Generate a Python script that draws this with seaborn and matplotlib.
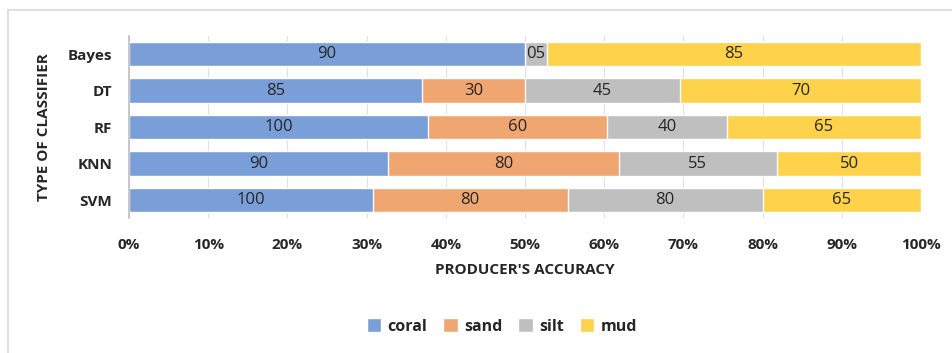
import numpy as np
import pandas as pd
import seaborn as sns
import matplotlib.pyplot as plt
from matplotlib.patches import Rectangle, Patch

classifiers = ['Bayes', 'DT', 'RF', 'KNN', 'SVM']
coral = [90, 85, 100, 90, 100]
sand = [0, 30, 60, 80, 80]
silt = [5, 45, 40, 55, 80]
mud = [85, 70, 65, 50, 65]

classes = ['coral', 'sand', 'silt', 'mud']
colors = ['#7A9ED7', '#F0A670', '#BFBFBF', '#FFD24C']

sns.set_style('white')
plt.rcParams['font.family'] = ['Open Sans', 'DejaVu Sans']

df = pd.DataFrame({'classifier': classifiers, 'coral': coral, 'sand': sand,
                   'silt': silt, 'mud': mud})
total = df[classes].sum(axis=1)
pct = df[classes].div(total, axis=0) * 100
cum = pct.cumsum(axis=1)

fig = plt.figure(figsize=(9.52, 3.53), dpi=100)
ax = fig.add_axes([0.1355, 0.3817, 0.832, 0.517])

# draw from the back (full stack) to the front so the layers stack up
for c, col in reversed(list(zip(classes, colors))):
    sns.barplot(x=cum[c], y=df['classifier'], color=col, orient='h',
                width=0.66, saturation=1, ax=ax, zorder=2)

# value labels in the middle of each segment
for i in range(len(classifiers)):
    for c in classes:
        v = df.loc[i, c]
        if v == 0:
            continue
        mid = cum.loc[i, c] - pct.loc[i, c] / 2
        ax.text(mid, i, '%02d' % v, ha='center', va='center',
                fontsize=12, color='#262626', zorder=3)

ax.set_xlim(0, 100)
ax.set_ylim(4.5, -0.5)
ax.set_xticks(np.arange(0, 101, 10))
ax.set_xticklabels([f'{t}%' for t in range(0, 101, 10)], fontsize=11,
                   fontweight='bold', color='#262626')
ax.tick_params(axis='x', pad=14, length=0)
ax.tick_params(axis='y', pad=12, length=0)
for lab in ax.get_yticklabels():
    lab.set_fontsize(11)
    lab.set_fontweight('bold')
    lab.set_color('#262626')
ax.grid(axis='x', color='#E0E0E0', lw=0.8, zorder=0)
ax.set_axisbelow(True)
for s in ['top', 'right', 'bottom']:
    ax.spines[s].set_visible(False)
ax.spines['left'].set_color('#BFBFBF')
ax.spines['left'].set_linewidth(1.2)
ax.spines['left'].set_zorder(4)

ax.set_xlabel("PRODUCER'S ACCURACY", fontsize=11, fontweight='bold',
              color='#262626', labelpad=8)
ax.set_ylabel('TYPE OF CLASSIFIER', fontsize=11, fontweight='bold',
              color='#262626', labelpad=12)

handles = [Patch(facecolor=col, label=c) for c, col in zip(classes, colors)]
fig.legend(handles=handles, loc='center', bbox_to_anchor=(0.527, 0.075),
           ncol=4, frameon=False, handlelength=0.9,
           handleheight=0.9, handletextpad=0.4, columnspacing=1.0,
           prop={'weight': 'bold', 'size': 11.5})

fig.patches.append(Rectangle((8 / 952, -0.1), 1.1, 1 - 10 / 353 + 0.1,
                             transform=fig.transFigure, fill=False,
                             edgecolor='#D9D9D9', lw=1.2))

fig.savefig('out.png', dpi=100)
